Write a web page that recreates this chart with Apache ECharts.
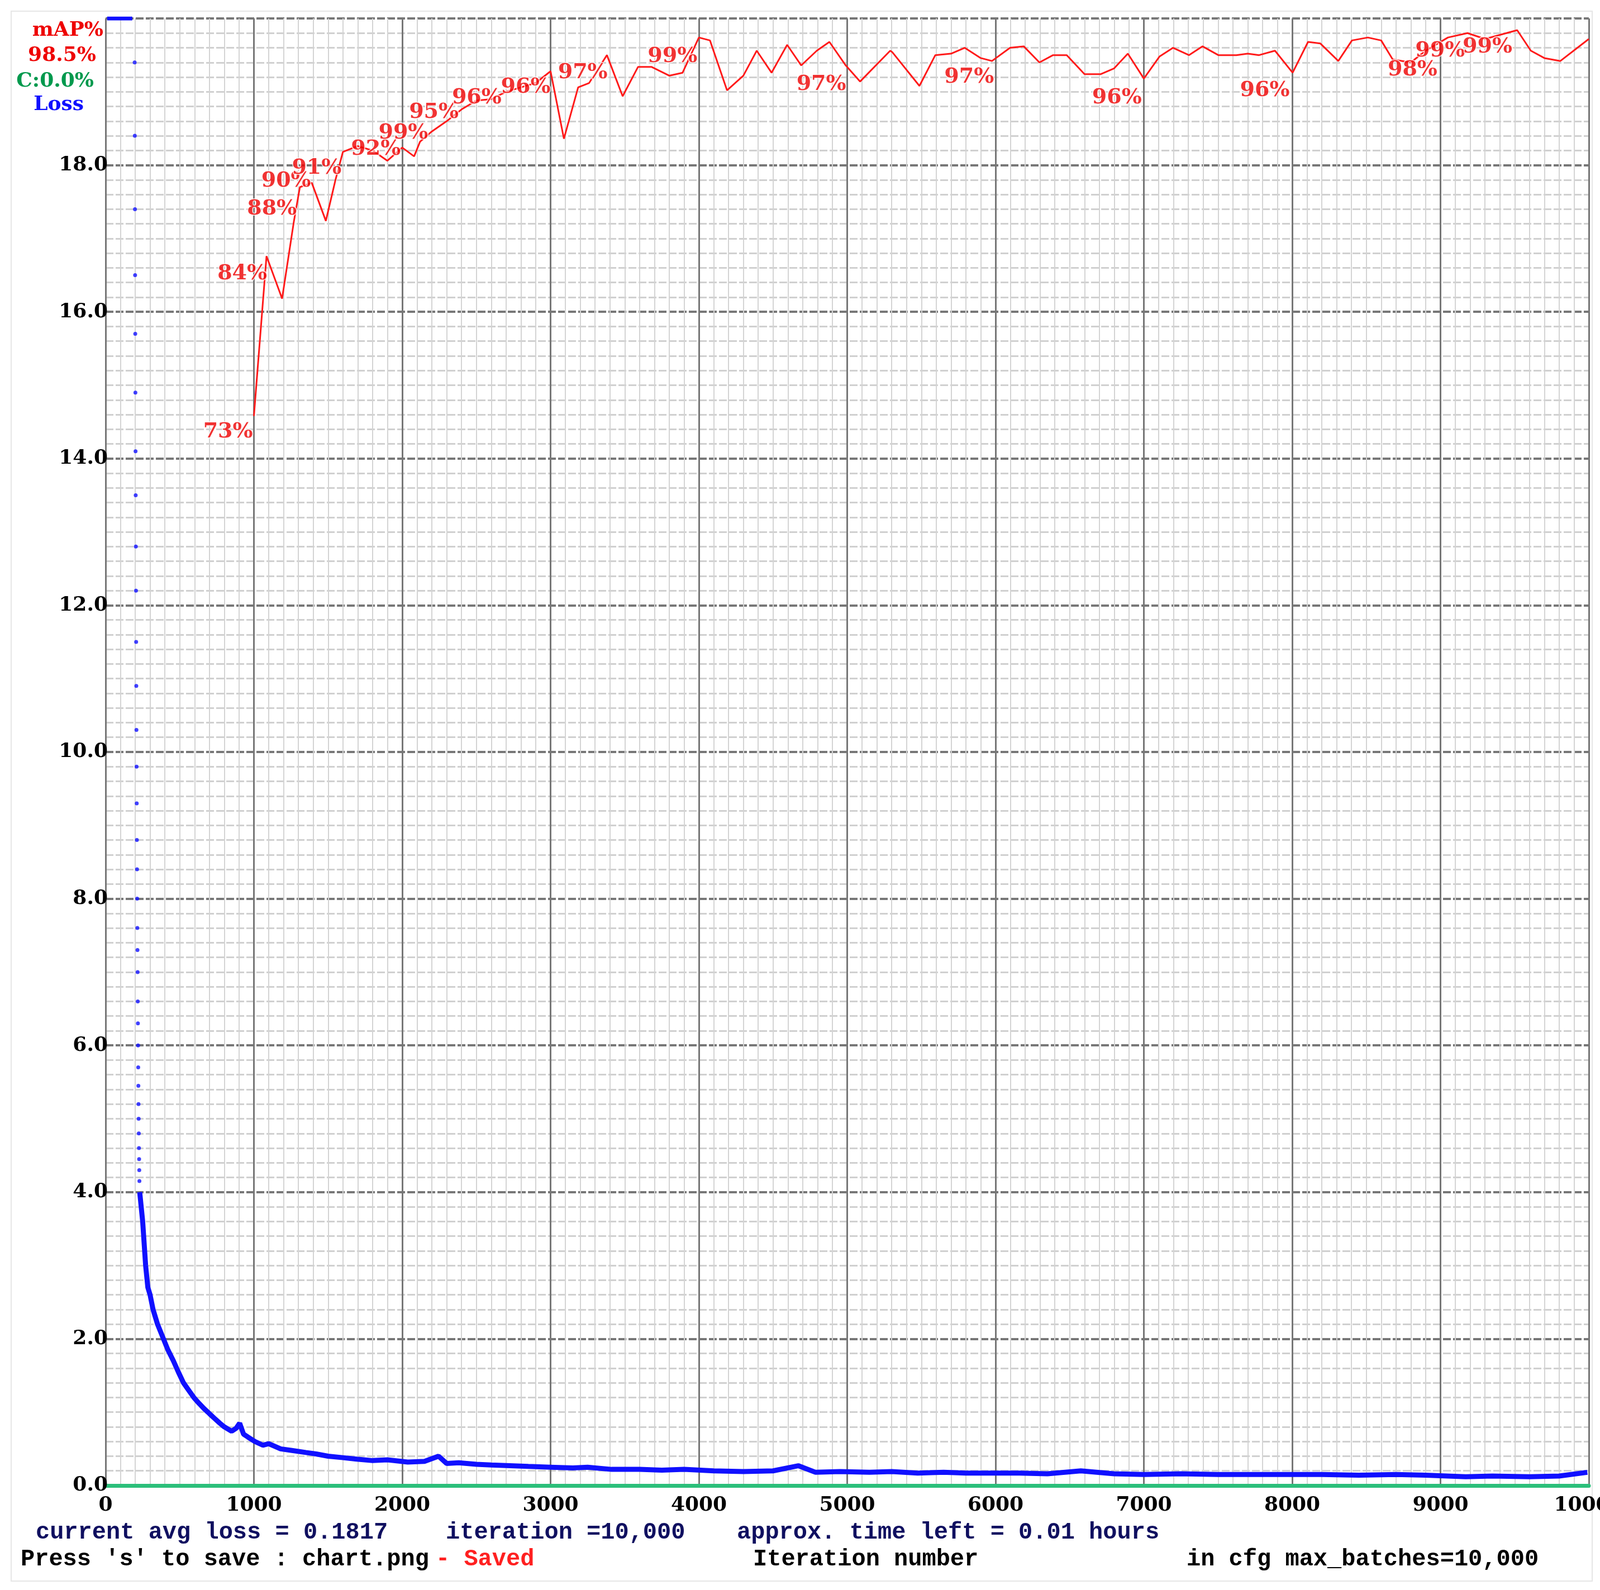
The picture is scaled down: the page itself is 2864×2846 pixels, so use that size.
<!DOCTYPE html>
<html><head><meta charset="utf-8">
<script src="https://cdn.jsdelivr.net/npm/echarts@6/dist/echarts.min.js"></script>
<style>html,body{margin:0;padding:0;background:#fff}#c{width:2864px;height:2846px}</style>
</head><body><div id="c"></div>
<script>
// ---- data ----
const xTicks = [0,1000,2000,3000,4000,5000,6000,7000,8000,9000,10000];
const yTicks = [0,2,4,6,8,10,12,14,16,18];
const clipIter = [10,180];
const clipVal = [20,20];
const earlyIter = [196,197,198,199,200,201,202,203,204,205,206,207,208,209,210,211,212,213,214,215,216,217,218,219,220,221,222,223,224,225,226,227,228];
const earlyVal = [19.4,18.4,17.4,16.5,15.7,14.9,14.1,13.5,12.8,12.2,11.5,10.9,10.3,9.8,9.3,8.8,8.4,8.0,7.6,7.3,7.0,6.6,6.3,6.0,5.7,5.45,5.2,5.0,4.8,4.6,4.45,4.3,4.15];
const lossIter = [230,240,250,270,285,300,320,350,390,420,457,490,525,560,595,630,663,700,732,770,800,850,880,904,930,960,1007,1060,1100,1180,1250,1350,1420,1500,1600,1693,1800,1900,2037,2150,2245,2300,2381,2500,2600,2725,2850,3000,3150,3250,3412,3600,3750,3900,4100,4300,4500,4670,4787,4950,5150,5300,5475,5650,5800,6000,6163,6350,6575,6800,7000,7250,7500,7800,8000,8200,8450,8700,8900,9170,9350,9600,9800,9990];
const lossVal = [4.0,3.8,3.6,3.0,2.7,2.6,2.4,2.2,2.0,1.85,1.7,1.55,1.4,1.3,1.2,1.12,1.05,0.98,0.92,0.85,0.8,0.74,0.78,0.85,0.7,0.66,0.6,0.55,0.57,0.5,0.48,0.45,0.43,0.4,0.38,0.36,0.34,0.35,0.32,0.33,0.4,0.3,0.31,0.29,0.28,0.27,0.26,0.25,0.24,0.25,0.22,0.22,0.21,0.22,0.2,0.19,0.2,0.27,0.18,0.19,0.18,0.19,0.17,0.18,0.17,0.17,0.17,0.16,0.2,0.16,0.15,0.16,0.15,0.15,0.15,0.15,0.14,0.15,0.14,0.12,0.13,0.12,0.13,0.18];
const mapIter = [1000,1085,1190,1270,1310,1390,1485,1550,1600,1700,1800,1900,2000,2080,2120,2200,2300,2400,2500,2600,2700,2800,2900,3000,3090,3186,3260,3380,3486,3590,3680,3800,3890,4000,4075,4190,4300,4390,4490,4595,4690,4795,4880,4990,5087,5290,5304,5487,5594,5700,5792,5900,5976,6098,6190,6296,6388,6480,6600,6708,6800,6892,7000,7105,7197,7304,7395,7502,7624,7700,7777,7884,8003,8107,8189,8311,8403,8510,8600,8678,8800,8900,9050,9182,9300,9517,9609,9700,9808,10000];
const mapVal = [72.9,83.8,80.9,86.2,88.5,88.8,86.2,89.0,90.9,91.3,91.0,90.3,91.2,90.6,91.6,92.3,93.0,93.8,94.4,94.5,95.0,95.3,95.6,96.4,91.8,95.3,95.6,97.5,94.7,96.7,96.7,96.1,96.3,98.7,98.5,95.1,96.1,97.8,96.3,98.2,96.8,97.8,98.4,96.8,95.7,97.8,97.7,95.4,97.5,97.6,98.0,97.3,97.1,98.0,98.1,97.0,97.5,97.5,96.2,96.2,96.6,97.6,95.9,97.4,98.0,97.5,98.1,97.5,97.5,97.6,97.5,97.8,96.3,98.4,98.3,97.1,98.5,98.7,98.5,97.2,97.0,97.8,98.7,99.0,98.6,99.2,97.8,97.3,97.1,98.6];
const mapLabelIter = [993,1089,1289,1385,1591,1990,2175,2381,2670,3000,3385,3990,4993,5990,6986,7983,8979,9165,9488];
const mapLabelPos = [71.8,82.6,87.0,88.9,89.8,91.1,92.2,93.6,94.6,95.3,96.3,97.4,95.5,96.0,94.6,95.1,96.5,97.8,98.0];
const mapLabelText = ['73%','84%','88%','90%','91%','92%','99%','95%','96%','96%','97%','99%','97%','97%','96%','96%','98%','99%','99%'];
const legendTexts = ['mAP%','98.5%','C:0.0%','Loss'];
const footerRow1 = ['current avg loss = 0.1817','iteration =10,000','approx. time left = 0.01 hours'];
const footerRow2 = ["Press 's' to save : chart.png",'- Saved','Iteration number','in cfg max_batches=10,000'];

const F = 'DejaVu Serif';
const chart = echarts.init(document.getElementById('c'));
const txt = (x,y,s,color,size,fam,align) => ({type:'text',x:x,y:y,style:{text:s,fill:color,font:'bold '+size+'px '+(fam||F),textAlign:align||'left',textVerticalAlign:'middle'}});
chart.setOption({
  animation:false,
  backgroundColor:'#fff',
  grid:{left:189,right:20,top:33,bottom:187,outerBoundsMode:'none',containLabel:false},
  xAxis:{type:'value',min:0,max:10000,interval:1000,
    axisLine:{show:true,lineStyle:{color:'#2bbf7a',width:7}},axisTick:{show:false},
    axisLabel:{color:'#000',fontFamily:F,fontWeight:'bold',fontSize:36,margin:18,
      formatter:v=>xTicks.includes(v)?String(v):''},
    splitLine:{show:true,lineStyle:{color:'#777',width:3}},
    minorTick:{show:false,splitNumber:10},
    minorSplitLine:{show:true,lineStyle:{color:'#d4d4d4',width:2}}},
  yAxis:[{type:'value',min:0,max:20,interval:2,
    axisLine:{show:false},axisTick:{show:false},
    axisLabel:{color:'#000',fontFamily:F,fontWeight:'bold',fontSize:36,margin:-4,
      formatter:v=>yTicks.includes(v)?v.toFixed(1):''},
    splitLine:{show:true,lineStyle:{color:'#777',width:4,type:[14,4]}},
    minorTick:{show:false,splitNumber:10},
    minorSplitLine:{show:true,lineStyle:{color:'#d0d0d0',width:3,type:[14,4]}}},
   {type:'value',min:0,max:100,show:false,splitLine:{show:false}}],
  series:[
    {type:'line',data:clipIter.map((x,i)=>[x,clipVal[i]]),showSymbol:false,lineStyle:{color:'#1010ff',width:7},z:3},
    {type:'scatter',data:earlyIter.map((x,i)=>[x,earlyVal[i]]),symbolSize:7,itemStyle:{color:'#1010ff'},z:3},
    {type:'line',name:'loss',data:lossIter.map((x,i)=>[x,lossVal[i]]),showSymbol:false,
      lineStyle:{color:'#1010ff',width:9},z:3},
    {type:'line',name:'mAP',yAxisIndex:1,data:mapIter.map((x,i)=>[x,mapVal[i]]),showSymbol:false,
      lineStyle:{color:'#ff1a1a',width:3},z:4},
    {type:'scatter',yAxisIndex:1,symbolSize:0,z:5,
      data:mapLabelIter.map((x,i)=>({value:[x,mapLabelPos[i]],label:{formatter:mapLabelText[i]}})),
      label:{show:true,position:[0,0],align:'right',verticalAlign:'middle',color:'#ee0000',
        fontFamily:F,fontWeight:'bold',fontSize:38,textBorderColor:'#fff',textBorderWidth:3}}
  ],
  graphic:[
    txt(185,55,legendTexts[0],'#ee0000',36,null,'right'),
    txt(172,100,legendTexts[1],'#ee0000',36,null,'right'),
    txt(168,146,legendTexts[2],'#00994d',36,null,'right'),
    txt(150,188,legendTexts[3],'#1010ff',36,null,'right'),
    txt(64,2743,footerRow1[0],'#101060',42,'Liberation Mono'),
    txt(798,2743,footerRow1[1],'#101060',42,'Liberation Mono'),
    txt(1319,2743,footerRow1[2],'#101060',42,'Liberation Mono'),
    txt(37,2791,footerRow2[0],'#000',42,'Liberation Mono'),
    txt(780,2791,footerRow2[1],'#ff2020',42,'Liberation Mono'),
    txt(1348,2791,footerRow2[2],'#000',42,'Liberation Mono'),
    txt(2124,2791,footerRow2[3],'#000',42,'Liberation Mono'),
    {type:'rect',shape:{x:20,y:20,width:2830,height:2810},style:{fill:'none',stroke:'#e6e6e6',lineWidth:2},z:-1}
  ]
});
</script></body></html>
